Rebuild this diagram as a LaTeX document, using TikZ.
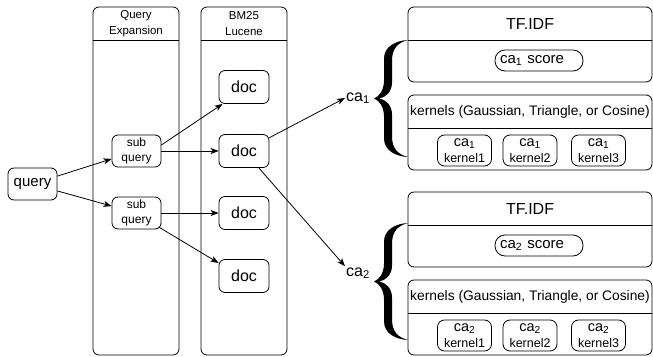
\documentclass[tikz,border=0pt]{standalone}
\usepackage{fontspec}
\setmainfont{Liberation Sans}
\usetikzlibrary{arrows.meta,positioning}
\tikzset{
	box/.style={draw, line width=0.8pt, rounded corners=6pt, inner sep=0pt, align=center},
	docbox/.style={box, minimum width=50pt, minimum height=33pt, font=\fontsize{16}{18}\selectfont},
	subbox/.style={box, minimum width=49pt, minimum height=32pt, font=\fontsize{12}{14.5}\selectfont},
	kernbox/.style={box, rounded corners=7pt, minimum width=54pt, minimum height=31pt, font=\fontsize{12.5}{16.5}\selectfont},
	pill/.style={box, rounded corners=10pt, minimum width=88pt, minimum height=21pt, font=\fontsize{15}{17}\selectfont},
	calbl/.style={inner sep=1pt, font=\fontsize{16}{18}\selectfont},
	lane/.style={line width=0.8pt, rounded corners=6pt},
	arr/.style={-{Stealth[length=8pt,width=6pt,inset=2pt]}, line width=0.8pt},
}
\begin{document}
\begin{tikzpicture}[x=1pt, y=-1pt, line join=round]
	\useasboundingbox (0,0) rectangle (653,356);
	% swimlanes
	\foreach \lx/\lname/\ltext in {93/qe/{Query\\Expansion}, 201/bm/{BM25\\Lucene}}{
		\draw[lane] (\lx,7) rectangle (\lx+86,355);
		\draw[line width=0.8pt] (\lx,40) -- (\lx+86,40);
		\node[align=center, font=\fontsize{11.5}{15.5}\selectfont] (\lname) at (\lx+43,23.5) {\ltext};
	}
	\node[box, minimum width=49pt, minimum height=32pt, font=\fontsize{15}{17}\selectfont] (query) at (32.5,184) {query};
	\node[subbox] (sub1) at (136.5,151) {sub\\query};
	\node[subbox] (sub2) at (136.5,213) {sub\\query};
	\node[docbox] (doc1) at (244,87) {doc};
	\node[docbox] (doc2) at (244,151) {doc};
	\node[docbox] (doc3) at (244,213) {doc};
	\node[docbox] (doc4) at (244,276) {doc};
	\node[calbl] (ca1) at (358,98) {ca\textsubscript{1}};
	\node[calbl] (ca2) at (358,273) {ca\textsubscript{2}};
	\draw[arr] (query) -- (sub1);
	\draw[arr] (query) -- (sub2);
	\draw[arr] ([yshift=6pt]sub1.east) -- ([xshift=4pt]doc1.south west);
	\draw[arr] (sub1.east) -- (doc2.west);
	\draw[arr] (sub2.east) -- (doc3.west);
	\draw[arr] ([xshift=-2pt,yshift=2pt]sub2.south east) -- ([yshift=13pt]doc4.west);
	\draw[arr] (doc2) -- (ca1.west);
	\draw[arr] (doc2) -- (ca2.north west);
	% TF.IDF and kernel boxes
	\foreach \ci/\oy in {1/0, 2/185}{
		\draw[lane] (408,7+\oy) rectangle (652,82+\oy);
		\draw[line width=0.8pt] (408,40+\oy) -- (652,40+\oy);
		\node[font=\fontsize{16}{18}\selectfont] (tfidf\ci) at (530,23.5+\oy) {TF.IDF};
		\node[pill] (score\ci) at (539,60.5+\oy) {ca\textsubscript{\ci}\hspace{5pt}score\hspace{14pt}};
		\draw[lane] (408,95+\oy) rectangle (652,170+\oy);
		\draw[line width=0.8pt] (408,128+\oy) -- (652,128+\oy);
		\node[font=\fontsize{13.8}{16}\selectfont] (kern\ci) at (530,111.5+\oy) {kernels (Gaussian, Triangle, or Cosine)};
		\foreach \kj/\kx in {1/464.5, 2/530, 3/598.5}
			\node[kernbox] (k\ci\kj) at (\kx,150.5+\oy) {{\fontsize{14.5}{16.5}\selectfont ca\textsubscript{\ci}}\\kernel\kj};
	}
	% braces
	\foreach \ty in {98.5, 281.5}
		\fill[shift={(374,\ty)}] (34,-58.5) .. controls (22,-58) and (10,-52) .. (10,-40)
			-- (10,-18) .. controls (10,-8) and (5,-2) .. (0,0)
			.. controls (5,2) and (10,8) .. (10,18) -- (10,40)
			.. controls (10,52) and (22,58) .. (34,58.5)
			.. controls (24,56) and (18,50) .. (18,38) -- (18,16)
			.. controls (18,7) and (12,1) .. (5,0)
			.. controls (12,-1) and (18,-7) .. (18,-16) -- (18,-38)
			.. controls (18,-50) and (24,-56) .. (34,-58.5) -- cycle;
\end{tikzpicture}
\end{document}
